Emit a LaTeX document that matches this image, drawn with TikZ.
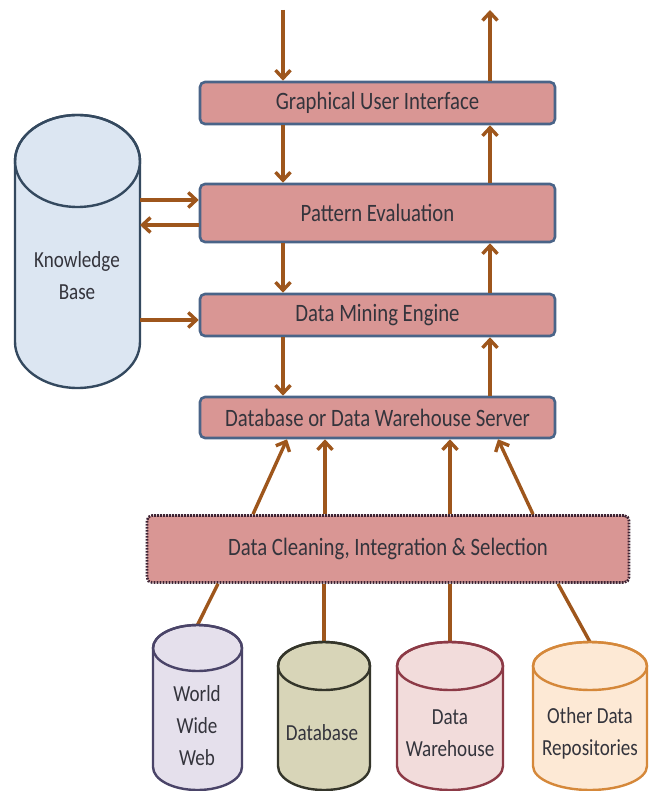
\documentclass[tikz,border=0pt]{standalone}
\usepackage{fontspec}
\setmainfont{Carlito}
\usepackage{graphicx}
\usetikzlibrary{arrows.meta}
\definecolor{arrc}{HTML}{9E561C}
\definecolor{boxfill}{HTML}{D99694}
\definecolor{boxline}{HTML}{4A6488}
\definecolor{txt}{HTML}{34343C}
\definecolor{kbfill}{HTML}{DCE6F2}
\definecolor{kbline}{HTML}{34495F}
\definecolor{wwwfill}{HTML}{E5E0EC}
\definecolor{wwwline}{HTML}{4A4468}
\definecolor{dbfill}{HTML}{D8D5B8}
\definecolor{dbline}{HTML}{34352A}
\definecolor{dwfill}{HTML}{F2DCDB}
\definecolor{dwline}{HTML}{8C3A46}
\definecolor{odfill}{HTML}{FDE9D5}
\definecolor{odline}{HTML}{D5883A}
\definecolor{cleanline}{HTML}{3E2434}
\newcommand{\sqz}[1]{\scalebox{0.83}[1]{#1}}
% cx, top, rx, ry, bottom, fill, line
\newcommand{\mycyl}[7]{%
  \draw[line width=2.4pt, draw=#7, fill=#6] ({#1-#3},{#2+#4}) -- ({#1-#3},{#5-#4})
    arc[start angle=180, end angle=0, x radius=#3, y radius=#4]
    -- ({#1+#3},{#2+#4})
    arc[start angle=0, end angle=-180, x radius=#3, y radius=#4] -- cycle;
  \draw[line width=2.4pt, draw=#7] (#1,{#2+#4}) ellipse[x radius=#3, y radius=#4];
}
\begin{document}
\begin{tikzpicture}[x=1pt,y=-1pt,
  proc/.style={draw=boxline, fill=boxfill, line width=2.6pt, rounded corners=5pt,
    minimum width=355pt, text=txt, font=\fontsize{25}{30}\selectfont, inner sep=0pt},
  arr/.style={draw=arrc, line width=3.4pt, -{Straight Barb[length=8pt,width=15pt]}},
  link/.style={draw=arrc, line width=3.4pt},
  cylbox/.style={inner sep=0pt, outer sep=0pt},
  cyltext/.style={text=txt, font=\fontsize{23}{32}\selectfont, align=center, inner sep=0pt}
]
\useasboundingbox (0,0) rectangle (652,791);

% columns
\coordinate (colL) at (283,0);
\coordinate (colR) at (490,0);
\coordinate (colA) at (325,0);
\coordinate (colB) at (450,0);
\coordinate (inTop) at (283,10);
\coordinate (outTop) at (490,10);

% processing boxes
\node[proc, minimum height=42pt] (gui) at (377.5,103) {\sqz{Graphical User Interface}};
\node[proc, minimum height=58pt] (pe) at (377.5,213) {\sqz{Pattern Evaluation}};
\node[proc, minimum height=42pt] (dme) at (377.5,315) {\sqz{Data Mining Engine}};
\node[proc, minimum height=41pt] (srv) at (377.5,417.5) {\sqz{Database or Data Warehouse Server}};
\node[proc, draw=cleanline, line width=2.6pt, dash pattern=on 1.8pt off 1.2pt,
  minimum width=482pt, minimum height=67pt] (clean) at (388,549)
  {\sqz{Data Cleaning, Integration \& Selection}};

% knowledge base
\mycyl{77.5}{115}{62.5}{46}{388}{kbfill}{kbline}
\node[cylbox, minimum width=125pt, minimum height=273pt] (kb) at (77.5,251.5) {};
\node[cyltext] (kbtext) at (77,276) {\sqz{Knowledge}\\\sqz{Base}};

% bottom sources: links first
\node[cylbox, minimum width=89pt, minimum height=165pt] (www) at (197.5,707.5) {};
\node[cylbox, minimum width=92pt, minimum height=148pt] (db) at (324,716) {};
\node[cylbox, minimum width=106pt, minimum height=148pt] (dw) at (450,716) {};
\node[cylbox, minimum width=114pt, minimum height=148pt] (od) at (590,716) {};

\draw[link] (www.north) -- ([xshift=-170pt]clean.south);
\draw[link] (db.north) -- (clean.south -| db.north);
\draw[link] (dw.north) -- (clean.south -| dw.north);
\draw[link] (od.north) -- ([xshift=170pt]clean.south);

\mycyl{197.5}{625}{44.5}{23}{790}{wwwfill}{wwwline}
\mycyl{324}{642}{46}{24}{790}{dbfill}{dbline}
\mycyl{450}{642}{53}{24}{790}{dwfill}{dwline}
\mycyl{590}{642}{57}{24}{790}{odfill}{odline}

\node[cyltext] (wwwtext) at (197,726) {\sqz{World}\\\sqz{Wide}\\\sqz{Web}};
\node[cyltext] (dbtext) at (322,733) {\sqz{Database}};
\node[cyltext] (dwtext) at (450,733) {\sqz{Data}\\\sqz{Warehouse}};
\node[cyltext] (odtext) at (590,733) {\sqz{Other Data}\\\sqz{Repositories}};

% vertical flow
\draw[arr] (inTop) -- (gui.north -| colL);
\draw[arr] (gui.north -| colR) -- (outTop);
\draw[arr] (gui.south -| colL) -- (pe.north -| colL);
\draw[arr] (pe.north -| colR) -- (gui.south -| colR);
\draw[arr] (pe.south -| colL) -- (dme.north -| colL);
\draw[arr] (dme.north -| colR) -- (pe.south -| colR);
\draw[arr] (dme.south -| colL) -- (srv.north -| colL);
\draw[arr] (srv.north -| colR) -- (dme.south -| colR);

% knowledge base links
\draw[arr] ([yshift=13pt]pe.west -| kb.east) -- ([yshift=13pt]pe.west);
\draw[arr] ([yshift=-12pt]pe.west) -- ([yshift=-12pt]pe.west -| kb.east);
\draw[arr] ([yshift=-5pt]dme.west -| kb.east) -- ([yshift=-5pt]dme.west);

% cleaning to server
\draw[arr] ([xshift=-135pt]clean.north) -- ([xshift=-90.5pt]srv.south);
\draw[arr] (clean.north -| colA) -- (srv.south -| colA);
\draw[arr] (clean.north -| colB) -- (srv.south -| colB);
\draw[arr] ([xshift=145pt]clean.north) -- ([xshift=120.5pt]srv.south);
\end{tikzpicture}
\end{document}
